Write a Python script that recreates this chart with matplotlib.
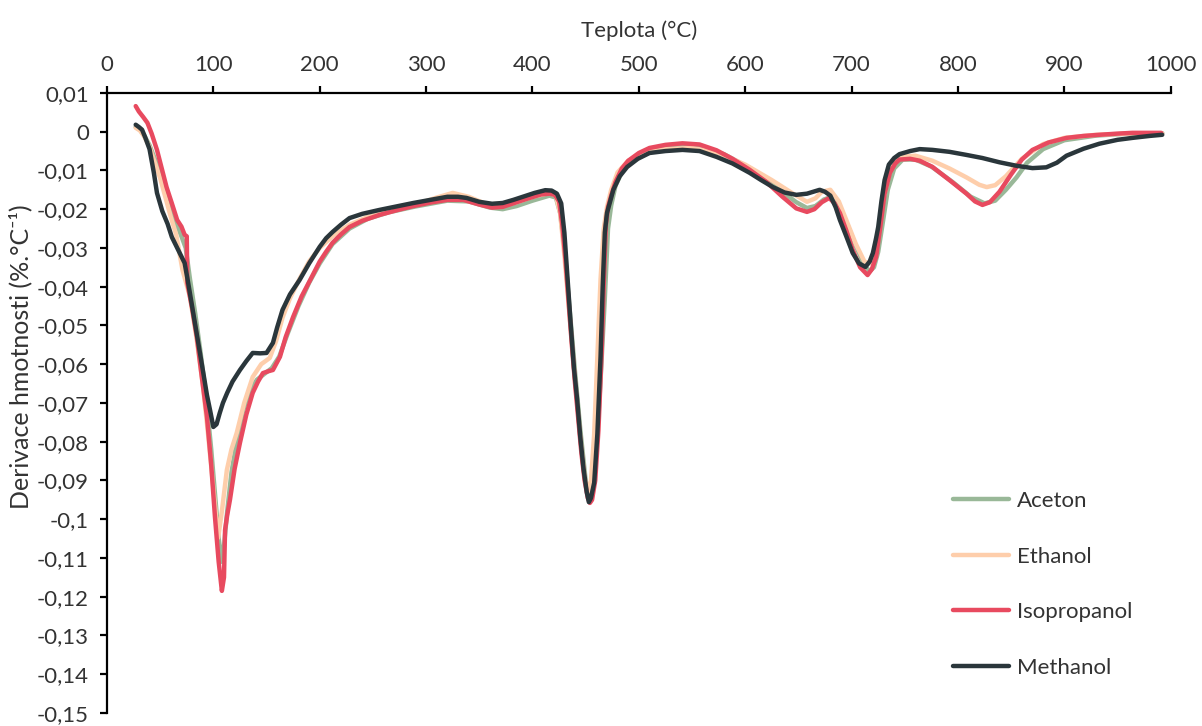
import matplotlib
matplotlib.use("Agg")
import matplotlib.pyplot as plt
from matplotlib.ticker import FuncFormatter, MultipleLocator

plt.rcParams["font.family"] = ["Lato", "DejaVu Sans"]

# Methanol
methanol_x = [27, 30, 33, 36, 40, 44, 47, 52, 57, 61, 66, 70, 73, 76, 80, 84, 87, 91, 94, 97,
              100, 103, 106, 109, 113, 118, 125, 131, 137, 144, 150, 156, 160, 165, 172, 181,
              190, 200, 206, 212, 220, 228, 240, 256, 272, 288, 304, 320, 330, 338, 350, 362,
              372, 382, 391, 402, 412, 418, 423, 427, 430, 433, 436, 439, 442, 445, 448, 451,
              453, 455, 458, 461, 464, 466, 468, 470, 473, 476, 482, 489, 499, 510, 525, 541,
              557, 573, 588, 604, 615, 626, 637, 648, 658, 665, 670, 675, 680, 685, 689, 695,
              701, 707, 713, 717, 720, 723, 725, 728, 731, 735, 740, 745, 755, 764, 776, 792,
              808, 823, 839, 855, 870, 883, 893, 902, 918, 933, 950, 964, 980, 992]
methanol_y = [0.0018, 0.0012, 0.0005, -0.0015, -0.0045, -0.0105, -0.0158, -0.0205, -0.0238,
              -0.0272, -0.0300, -0.0322, -0.0339, -0.0385, -0.0450, -0.0515, -0.0563, -0.0630,
              -0.0680, -0.0720, -0.0762, -0.0755, -0.0726, -0.0700, -0.0674, -0.0645, -0.0615,
              -0.0592, -0.0571, -0.0572, -0.0571, -0.0545, -0.0505, -0.0460, -0.0420, -0.0383,
              -0.0340, -0.0297, -0.0275, -0.0259, -0.0240, -0.0223, -0.0212, -0.0202, -0.0193,
              -0.0184, -0.0176, -0.0168, -0.0168, -0.0171, -0.0181, -0.0186, -0.0184, -0.0176,
              -0.0168, -0.0158, -0.0151, -0.0152, -0.0160, -0.0185, -0.0261, -0.0380, -0.0500,
              -0.0610, -0.0692, -0.0790, -0.0870, -0.0930, -0.0956, -0.0945, -0.0906, -0.0780,
              -0.0580, -0.0400, -0.0260, -0.0210, -0.0180, -0.0150, -0.0115, -0.0091, -0.0070,
              -0.0055, -0.0050, -0.0047, -0.0050, -0.0065, -0.0082, -0.0106, -0.0125, -0.0143,
              -0.0157, -0.0163, -0.0160, -0.0154, -0.0150, -0.0155, -0.0165, -0.0195, -0.0228,
              -0.0270, -0.0313, -0.0340, -0.0349, -0.0335, -0.0313, -0.0275, -0.0246, -0.0180,
              -0.0125, -0.0085, -0.0068, -0.0058, -0.0050, -0.0045, -0.0047, -0.0052, -0.0060,
              -0.0068, -0.0079, -0.0088, -0.0094, -0.0092, -0.0080, -0.0062, -0.0044, -0.0031,
              -0.0021, -0.0016, -0.0011, -0.0008]

# Isopropanol
isoprop_x = [27, 30, 34, 38, 42, 47, 51, 56, 61, 66, 70, 73, 75, 75.5, 80, 84.5, 89, 94, 98,
             101.5, 105, 108, 110, 111, 113, 115.6, 120, 125, 131, 137, 142, 146.6, 152, 156,
             162.6, 168, 175, 183, 191, 200, 206, 212, 220, 228, 240, 256, 272, 288, 304, 320,
             335, 350, 362, 372, 382, 395, 408, 416, 421, 425, 428, 431, 434, 437, 440, 443,
             446, 449, 452, 454, 456, 459, 462, 465, 467, 469, 471, 474, 478, 484, 490, 500,
             510, 525, 541, 557, 573, 588, 604, 620, 635, 648, 658, 665, 672, 679, 684, 689,
             695, 701, 708, 715, 719, 723, 727, 731, 736, 741, 745, 755, 764, 776, 792, 808,
             816, 823, 830, 839, 850, 860, 870, 885, 902, 918, 933, 950, 964, 980, 991]
isoprop_y = [0.0066, 0.0052, 0.0038, 0.0023, -0.0005, -0.0047, -0.0090, -0.0143, -0.0185,
             -0.0228, -0.0245, -0.0266, -0.0270, -0.0390, -0.0455, -0.0530, -0.0630, -0.0736,
             -0.0860, -0.0994, -0.1110, -0.1185, -0.1150, -0.1028, -0.0990, -0.0950, -0.0870,
             -0.0803, -0.0730, -0.0674, -0.0645, -0.0623, -0.0618, -0.0615, -0.0581, -0.0530,
             -0.0478, -0.0425, -0.0383, -0.0335, -0.0310, -0.0287, -0.0265, -0.0246, -0.0230,
             -0.0215, -0.0203, -0.0192, -0.0183, -0.0176, -0.0176, -0.0188, -0.0196, -0.0194,
             -0.0185, -0.0173, -0.0162, -0.0160, -0.0163, -0.0180, -0.0240, -0.0330, -0.0440,
             -0.0550, -0.0650, -0.0740, -0.0830, -0.0900, -0.0945, -0.0958, -0.0950, -0.0900,
             -0.0770, -0.0570, -0.0390, -0.0240, -0.0195, -0.0165, -0.0130, -0.0095, -0.0075,
             -0.0055, -0.0042, -0.0034, -0.0030, -0.0033, -0.0048, -0.0070, -0.0098, -0.0130,
             -0.0168, -0.0198, -0.0207, -0.0200, -0.0182, -0.0171, -0.0185, -0.0210, -0.0255,
             -0.0305, -0.0350, -0.0370, -0.0355, -0.0323, -0.0245, -0.0160, -0.0106, -0.0082,
             -0.0072, -0.0070, -0.0075, -0.0091, -0.0125, -0.0160, -0.0180, -0.0189, -0.0182,
             -0.0155, -0.0110, -0.0072, -0.0047, -0.0028, -0.0016, -0.0011, -0.0008, -0.0005,
             -0.0003, -0.0003, -0.0003]

# Aceton
aceton_x = [27, 31, 35, 40, 45, 50, 55, 60, 65, 70, 74, 78, 83, 88, 93, 98, 102, 105, 108,
            110, 113, 117, 122, 128, 134, 141, 148, 155, 162, 170, 180, 190, 200, 212, 228,
            245, 265, 290, 320, 340, 360, 372, 385, 400, 416, 422, 426, 430, 435, 440, 445,
            450, 453, 456, 460, 464, 468, 471, 474, 478, 485, 495, 510, 530, 555, 580, 605,
            630, 648, 658, 666, 674, 681, 688, 696, 704, 712, 717, 721, 725, 729, 734, 740,
            748, 760, 775, 795, 812, 825, 835, 845, 855, 865, 880, 900, 930, 960, 992]
aceton_y = [0.0012, 0.0005, -0.0010, -0.0035, -0.0070, -0.0105, -0.0150, -0.0195, -0.0235,
            -0.0270, -0.0300, -0.0380, -0.0470, -0.0570, -0.0680, -0.0820, -0.0950, -0.1050,
            -0.1110, -0.1070, -0.0980, -0.0880, -0.0800, -0.0720, -0.0670, -0.0640, -0.0625,
            -0.0610, -0.0580, -0.0520, -0.0450, -0.0390, -0.0340, -0.0290, -0.0250, -0.0225,
            -0.0208, -0.0193, -0.0178, -0.0180, -0.0196, -0.0200, -0.0192, -0.0178, -0.0165,
            -0.0170, -0.0210, -0.0300, -0.0460, -0.0620, -0.0770, -0.0900, -0.0940, -0.0925,
            -0.0830, -0.0640, -0.0430, -0.0250, -0.0190, -0.0140, -0.0098, -0.0070, -0.0048,
            -0.0038, -0.0040, -0.0058, -0.0095, -0.0145, -0.0182, -0.0197, -0.0192, -0.0175,
            -0.0168, -0.0190, -0.0240, -0.0295, -0.0345, -0.0360, -0.0350, -0.0310, -0.0240,
            -0.0150, -0.0095, -0.0072, -0.0072, -0.0090, -0.0130, -0.0168, -0.0185, -0.0178,
            -0.0150, -0.0118, -0.0080, -0.0045, -0.0022, -0.0010, -0.0005, -0.0004]

# Ethanol
ethanol_x = [27, 31, 35, 40, 45, 50, 55, 60, 65, 71, 78, 84, 90, 95, 100, 104.5, 108, 112.7,
             117, 122, 129, 137, 145, 153, 159, 165, 172, 181, 190, 200, 212, 228, 245, 265,
             290, 310, 325, 340, 355, 370, 385, 400, 416, 422, 426, 430, 435, 440, 445, 449,
             452, 455, 458, 461, 464, 467, 470, 474, 480, 490, 505, 525, 550, 575, 600, 625,
             645, 658, 666, 672, 680, 688, 696, 704, 712, 717, 721, 725, 730, 736, 745, 760,
             776, 792, 808, 820, 827, 835, 845, 860, 880, 900, 930, 960, 992]
ethanol_y = [0.0010, 0.0003, -0.0012, -0.0040, -0.0080, -0.0120, -0.0170, -0.0220, -0.0265,
             -0.0357, -0.0426, -0.0530, -0.0650, -0.0780, -0.0920, -0.1048, -0.0980, -0.0873,
             -0.0820, -0.0777, -0.0700, -0.0633, -0.0600, -0.0584, -0.0540, -0.0480, -0.0430,
             -0.0380, -0.0335, -0.0300, -0.0270, -0.0240, -0.0220, -0.0205, -0.0188, -0.0170,
             -0.0158, -0.0168, -0.0185, -0.0192, -0.0182, -0.0168, -0.0158, -0.0165, -0.0210,
             -0.0320, -0.0480, -0.0640, -0.0790, -0.0890, -0.0930, -0.0900, -0.0780, -0.0580,
             -0.0380, -0.0250, -0.0195, -0.0150, -0.0105, -0.0075, -0.0055, -0.0045, -0.0042,
             -0.0055, -0.0085, -0.0125, -0.0160, -0.0181, -0.0172, -0.0155, -0.0150, -0.0180,
             -0.0235, -0.0290, -0.0335, -0.0340, -0.0320, -0.0270, -0.0170, -0.0100, -0.0065,
             -0.0062, -0.0075, -0.0095, -0.0118, -0.0137, -0.0143, -0.0138, -0.0115, -0.0070,
             -0.0032, -0.0016, -0.0008, -0.0005, -0.0004]

series = [
    ("Aceton", aceton_x, aceton_y, "#99B898"),
    ("Ethanol", ethanol_x, ethanol_y, "#FECEAB"),
    ("Isopropanol", isoprop_x, isoprop_y, "#E84A5F"),
    ("Methanol", methanol_x, methanol_y, "#2A363B"),
]

fig = plt.figure(figsize=(12.02, 7.26), dpi=100)
ax = fig.add_axes([0.089, 0.018, 0.885, 0.854])

for name, xs, ys, color in series:
    ax.plot(xs, ys, color=color, lw=3.2, label=name, solid_capstyle="round",
            solid_joinstyle="round")

ax.set_xlim(0, 1000)
ax.set_ylim(-0.15, 0.01)
ax.xaxis.set_major_locator(MultipleLocator(100))
ax.yaxis.set_major_locator(MultipleLocator(0.01))


def comma_fmt(v, pos):
    if abs(v) < 1e-9:
        return "0"
    s = f"{v:.2f}".rstrip("0").rstrip(".")
    return s.replace(".", ",")


ax.yaxis.set_major_formatter(FuncFormatter(comma_fmt))

ax.xaxis.tick_top()
ax.xaxis.set_label_position("top")
ax.spines["bottom"].set_visible(False)
ax.spines["right"].set_visible(False)
ax.spines["top"].set_linewidth(1.6)
ax.spines["left"].set_linewidth(1.6)
ax.tick_params(axis="both", direction="out", length=5, width=1.6, labelsize=16,
               colors="black", labelcolor="#333333")
ax.tick_params(axis="x", pad=8)
ax.tick_params(axis="y", pad=8)

ax.set_xlabel("Teplota (°C)", fontsize=16, color="#333333", labelpad=13)
ax.set_ylabel("Derivace hmotnosti (%.°C⁻¹)", fontsize=18, color="#333333")
ax.yaxis.set_label_coords(-0.070, 0.574)

leg = ax.legend(loc="center left", bbox_to_anchor=(0.793, 0.195),
                bbox_transform=fig.transFigure, frameon=False, fontsize=16,
                handlelength=2.5, handletextpad=0.35, labelspacing=1.6,
                borderpad=0, borderaxespad=0)
for t in leg.get_texts():
    t.set_color("#333333")

fig.savefig("out.png", dpi=100)
